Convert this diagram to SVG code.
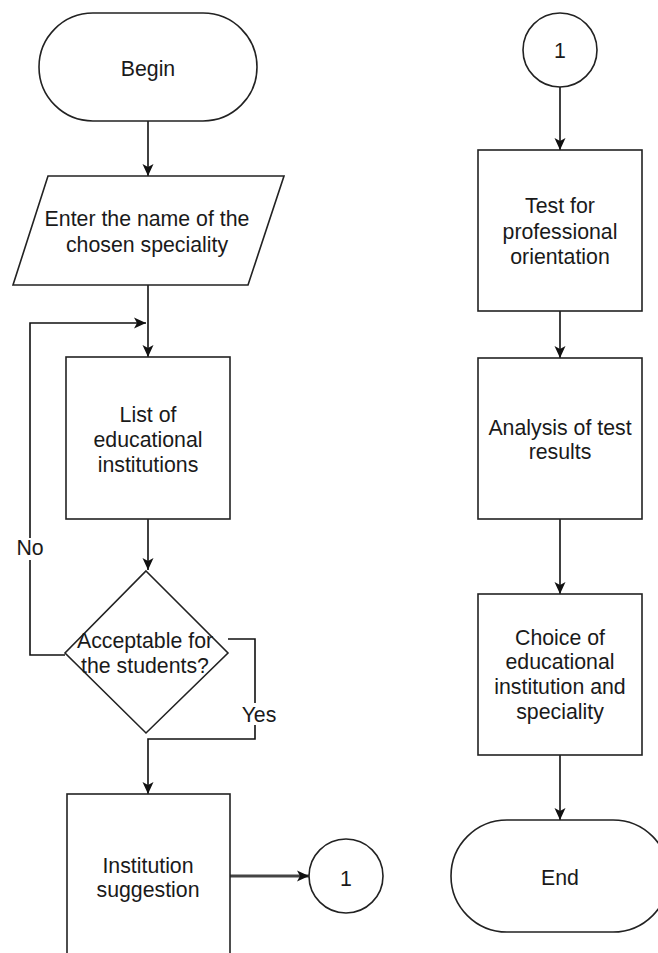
<svg xmlns="http://www.w3.org/2000/svg" width="658" height="953" viewBox="0 0 658 953">
<style>
.s{fill:#fff;stroke:#222;stroke-width:1.6}
.t{font-family:"Liberation Sans",Arial,sans-serif;font-size:21.3px;fill:#1a1a1a;text-anchor:middle}
.c{fill:none;stroke:#111;stroke-width:1.6}
.lbl{font-family:"Liberation Sans",Arial,sans-serif;font-size:21.3px;fill:#1a1a1a;text-anchor:middle}
</style>
<defs>
<marker id="ah" markerUnits="userSpaceOnUse" markerWidth="14" markerHeight="14" viewBox="0 0 14 14" refX="13" refY="7" orient="auto">
<path d="M1,1.5 L13,7 L1,12.5 L4,7 Z" fill="#111"/>
</marker>
</defs>
<rect width="658" height="953" fill="#fff"/>
<g id="connectors">
<line class="c" x1="148" y1="121" x2="148" y2="176" marker-end="url(#ah)"/>
<line class="c" x1="148" y1="285" x2="148" y2="357" marker-end="url(#ah)"/>
<line class="c" x1="148" y1="519" x2="148" y2="570" marker-end="url(#ah)"/>
<polyline class="c" points="65,655 30,655 30,323 146,323" marker-end="url(#ah)"/>
<polyline class="c" points="228,639 255,639 255,739 148,739 148,794" marker-end="url(#ah)"/>
<line fill="none" stroke="#444" stroke-width="3" x1="230" y1="876" x2="309" y2="876" marker-end="url(#ah)"/>
<line class="c" x1="560" y1="87" x2="560" y2="150" marker-end="url(#ah)"/>
<line class="c" x1="560" y1="311" x2="560" y2="358" marker-end="url(#ah)"/>
<line class="c" x1="560" y1="519" x2="560" y2="594" marker-end="url(#ah)"/>
<line class="c" x1="560" y1="755" x2="560" y2="820" marker-end="url(#ah)"/>
<rect x="18" y="538" width="25" height="22" fill="#fff"/>
<text class="lbl" x="30" y="555">No</text>
<rect x="241" y="703" width="36" height="22" fill="#fff"/>
<text class="lbl" x="259" y="722">Yes</text>
</g>
<g id="begin">
<rect class="s" x="39" y="13" width="218" height="108" rx="54" ry="54"/>
<text class="t" x="148" y="76">Begin</text>
</g>
<g id="enter">
<polygon class="s" points="48,176 284,176 248,285 13,285"/>
<text class="t" x="147" y="226">Enter the name of the</text>
<text class="t" x="147" y="252">chosen speciality</text>
</g>
<g id="list">
<rect class="s" x="66" y="357" width="164" height="162"/>
<text class="t" x="148" y="422">List of</text>
<text class="t" x="148" y="447">educational</text>
<text class="t" x="148" y="472">institutions</text>
</g>
<g id="decision">
<polygon class="s" points="146,571 228,653 146,733 65,653"/>
<text class="t" x="145" y="648">Acceptable for</text>
<text class="t" x="145" y="673">the students?</text>
</g>
<g id="suggestion">
<rect class="s" x="67" y="794" width="163" height="170"/>
<text class="t" x="148" y="873">Institution</text>
<text class="t" x="148" y="897">suggestion</text>
</g>
<g id="conn1a">
<circle class="s" cx="346" cy="876" r="37"/>
<text class="t" x="346" y="886">1</text>
</g>
<g id="conn1b">
<circle class="s" cx="560" cy="50" r="37"/>
<text class="t" x="560" y="58">1</text>
</g>
<g id="test">
<rect class="s" x="478" y="150" width="164" height="161"/>
<text class="t" x="560" y="213">Test for</text>
<text class="t" x="560" y="239">professional</text>
<text class="t" x="560" y="264">orientation</text>
</g>
<g id="analysis">
<rect class="s" x="478" y="358" width="164" height="161"/>
<text class="t" x="560" y="435">Analysis of test</text>
<text class="t" x="560" y="459">results</text>
</g>
<g id="choice">
<rect class="s" x="478" y="594" width="164" height="161"/>
<text class="t" x="560" y="645">Choice of</text>
<text class="t" x="560" y="669">educational</text>
<text class="t" x="560" y="694">institution and</text>
<text class="t" x="560" y="719">speciality</text>
</g>
<g id="end">
<rect class="s" x="451" y="820" width="218" height="112" rx="56" ry="56"/>
<text class="t" x="560" y="885">End</text>
</g>
</svg>
